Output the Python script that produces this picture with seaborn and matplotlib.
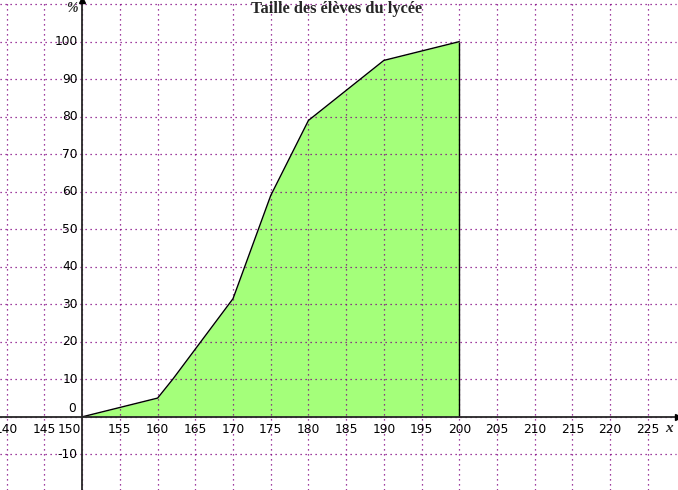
import matplotlib
matplotlib.use("Agg")
import matplotlib.pyplot as plt
import seaborn as sns
import pandas as pd

# Data
taille = [150, 160, 162, 170, 175, 180, 190, 200]
pourcent = [0, 5, 10, 31.5, 59, 79, 95, 100]
x_ticks = [140, 145, 150, 155, 160, 165, 170, 175, 180, 185, 190, 195, 200, 205, 210, 215, 220, 225]
y_ticks = [-10, 0, 10, 20, 30, 40, 50, 60, 70, 80, 90, 100]
title = "Taille des élèves du lycée"

df = pd.DataFrame({"taille": taille, "pourcent": pourcent})

sns.set_style("white")
plt.rcParams['font.family'] = ['DejaVu Sans']

fig = plt.figure(figsize=(6.78, 4.90), dpi=100)
ax = fig.add_axes([0, 0, 1, 1])
ax.set_xlim(139.1, 229.0)
ax.set_ylim(-19.5, 111.1)

grid_kw = dict(color="#800080", linewidth=0.9, linestyle=(0, (1, 3)), zorder=2)
for gx in range(140, 230, 5):
    ax.axvline(gx, ymax=(110.2 - (-19.5)) / (111.1 + 19.5), **grid_kw)
for gy in range(-10, 111, 10):
    ax.axhline(gy, xmax=(228.7 - 139.1) / (229.0 - 139.1), **grid_kw)

ax.fill_between(df["taille"], 0, df["pourcent"], color="#a4ff7a", zorder=1, linewidth=0)
sns.lineplot(data=df, x="taille", y="pourcent", ax=ax, color="black", linewidth=1.0, zorder=3, sort=False)
ax.vlines(taille[-1], 0, pourcent[-1], color="black", linewidth=1.0, zorder=3)

# axes through origin
for s in ["top", "right"]:
    ax.spines[s].set_visible(False)
ax.spines["left"].set_position(("data", 150))
ax.spines["bottom"].set_position(("data", 0))
ax.spines["left"].set_linewidth(1.3)
ax.spines["bottom"].set_linewidth(1.3)
ax.spines["left"].set_zorder(4)
ax.spines["bottom"].set_zorder(4)
ax.plot(1, 0, ">k", transform=ax.get_yaxis_transform(), clip_on=False, markersize=4, zorder=5)
ax.plot(150, 1, "^k", transform=ax.get_xaxis_transform(), clip_on=False, markersize=4, zorder=5)

ax.set_xticks(x_ticks)
ax.set_yticks(y_ticks)
ax.set_xticklabels([])
ax.set_yticklabels([])
ax.tick_params(axis="both", direction="inout", length=7, width=1.2, color="black")
ax.set_xlabel("")
ax.set_ylabel("")

lab_kw = dict(fontsize=8.8, color="black", zorder=6)
for t in x_ticks:
    if t == 150:
        ax.text(149.8, -1.6, str(t), ha="right", va="top", **lab_kw)
    else:
        ax.text(t, -1.6, str(t), ha="center", va="top", **lab_kw)
for t in y_ticks:
    if t == 0:
        ax.text(149.2, 2.2, "0", ha="right", va="center", **lab_kw)
    else:
        ax.text(149.4, t, str(t), ha="right", va="center", **lab_kw)

ax.text(227.8, -1.4, "x", ha="center", va="top", fontsize=11, fontstyle="italic",
        fontweight="bold", family=["Liberation Serif"])
ax.text(148.6, 110.6, "%", ha="center", va="top", fontsize=10, fontstyle="italic",
        fontweight="bold", family=["Liberation Serif"])
ax.text(183.7, 108.6, title, ha="center", va="center", fontsize=11.8, fontweight="bold",
        family=["Liberation Serif"], zorder=6)

fig.savefig("out.png", dpi=100)
